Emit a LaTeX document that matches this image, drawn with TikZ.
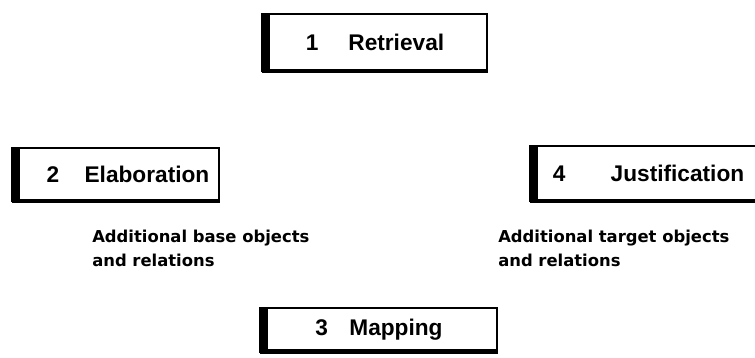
\documentclass[tikz,border=0pt]{standalone}
\usepackage{fontspec}
\newfontfamily\stagefont{Liberation Sans}
\newfontfamily\descfont{DejaVu Sans}
\usepackage{tikz}

\begin{document}
\begin{tikzpicture}[x=0.75pt,y=-0.75pt,
  stage node/.style={rectangle,draw,line width=1.8pt,inner sep=0pt,
    font=\stagefont\bfseries\fontsize{17}{20}\selectfont},
  desc node/.style={align=left,anchor=north west,inner sep=0pt,
    font=\descfont\bfseries\fontsize{12.3}{18}\selectfont}]

  \useasboundingbox (0,0) rectangle (755,357);
  \clip (0,0) rectangle (755,357);

  \node[stage node, minimum width=167.7pt, minimum height=42.5pt] (1) at (375,42.5)
    {1\hspace{22.5pt}Retrieval};
  \node[stage node, minimum width=154.2pt, minimum height=39.5pt] (2) at (116,174.5)
    {\hspace{18pt}2\hspace{19pt}Elaboration};
  \node[stage node, minimum width=176pt, minimum height=41pt] (4) at (648.5,173.5)
    {4\hspace{34pt}Justification};
  \node[stage node, minimum width=176.7pt, minimum height=32.7pt] (3) at (379,330)
    {3\hspace{16pt}Mapping\hspace{11pt}};

  \node[desc node] (B) at (92,230) {Additional base objects\\and relations};
  \node[desc node] (T) at (498,230) {Additional target objects\\and relations};

  \foreach \n in {1,2,3,4} {
    \draw[line width=7pt] ([xshift=2.5pt]\n.south west) -- ([xshift=2.5pt]\n.north west);
    \draw[line width=3.5pt] ([yshift=0.9pt]\n.south west) -- ([yshift=0.9pt]\n.south east);
  }
\end{tikzpicture}
\end{document}
